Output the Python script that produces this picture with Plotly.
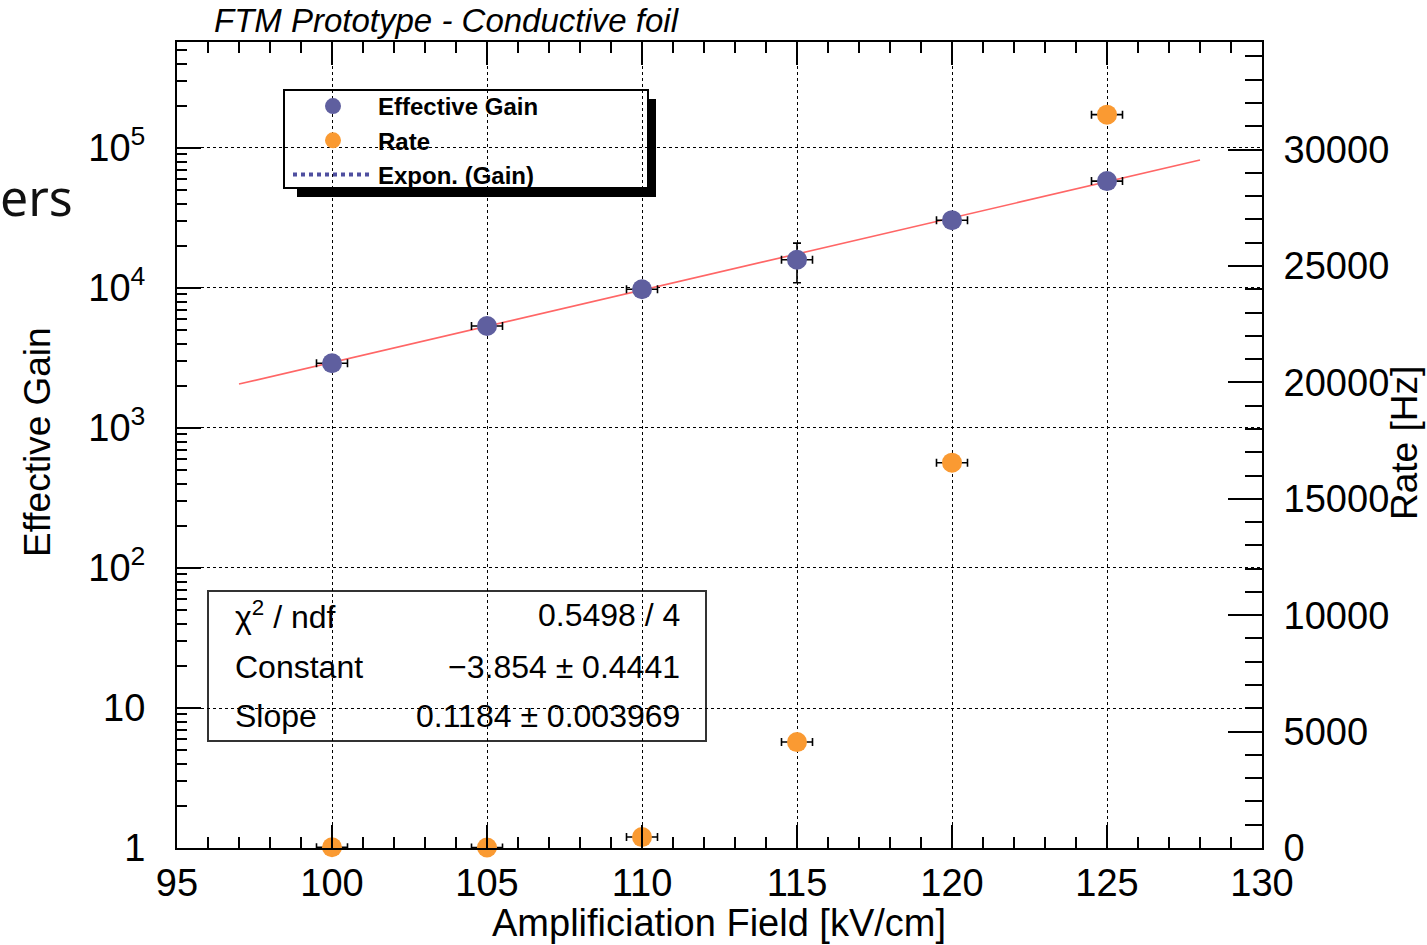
import plotly.graph_objects as go

# ---------------- data ----------------
field = [100, 105, 110, 115, 120, 125]
field_err = [0.5, 0.5, 0.5, 0.5, 0.5, 0.5]
gain = [2900, 5350, 9800, 15900, 30500, 58000]
gain_err = [150, 250, 500, 5000, 1500, 2500]
rate = [30, 20, 470, 4550, 16550, 31500]
fit_x = [97.0, 128.0]
fit_y = [2060, 82000]

x_ticks = [95, 100, 105, 110, 115, 120, 125, 130]
y_tickvals = [1, 10, 100, 1000, 10000, 100000]
y_ticktext = ["1", "10", "10<sup>2</sup>", "10<sup>3</sup>", "10<sup>4</sup>", "10<sup>5</sup>"]
rate_ticks = [0, 5000, 10000, 15000, 20000, 25000, 30000]
rate_ticktext = ["0", "5000", "10000", "15000", "20000", "25000", "30000"]

stats_labels = ["\u03c7<sup>2</sup> / ndf", "Constant", "Slope"]
stats_values = ["0.5498 / 4", "\u22123.854 \u00b1 0.4441", "0.1184 \u00b1 0.003969"]

# ---------------- geometry ----------------
W, H = 1427, 945
L, R, T, B = 177, 1262, 42, 848
FONT = "Liberation Sans"


def px(x):
    return (x - L) / (R - L)


def py(y):
    return (B - y) / (B - T)


fig = go.Figure()

# fit line (drawn, not in legend)
fig.add_trace(go.Scatter(
    x=fit_x, y=fit_y, mode="lines", yaxis="y",
    line=dict(color="#ff6666", width=1.6), showlegend=False, hoverinfo="skip"))

# Effective gain
fig.add_trace(go.Scatter(
    x=field, y=gain, mode="markers", name="Effective Gain", yaxis="y",
    marker=dict(size=20, color="#5f5f9f"),
    error_x=dict(type="data", array=field_err, color="black", thickness=1.6, width=4),
    error_y=dict(type="data", array=gain_err, color="black", thickness=1.6, width=4)))

# Rate
fig.add_trace(go.Scatter(
    x=field, y=rate, mode="markers", name="Rate", yaxis="y2", cliponaxis=False,
    marker=dict(size=20, color="#fa9a32"),
    error_x=dict(type="data", array=field_err, color="black", thickness=1.6, width=4)))

# legend-only entry for the exponential fit
fig.add_trace(go.Scatter(
    x=[None], y=[None], mode="lines", name="Expon. (Gain)", yaxis="y",
    line=dict(color="#4f4fa0", width=4, dash="dot")))

shapes = [
    # legend shadow + box
    dict(type="rect", xref="paper", yref="paper", layer="below",
         x0=px(297), x1=px(656), y0=py(197), y1=py(99),
         fillcolor="black", line=dict(width=0)),
    dict(type="rect", xref="paper", yref="paper", layer="below",
         x0=px(284), x1=px(648), y0=py(188), y1=py(90),
         fillcolor="white", line=dict(color="black", width=2)),
    # stats box
    dict(type="rect", xref="paper", yref="paper", layer="below",
         x0=px(208), x1=px(706), y0=py(741), y1=py(591),
         fillcolor="white", line=dict(color="#333333", width=2)),
]

annotations = [
    dict(text="FTM Prototype - Conductive foil", xref="paper", yref="paper",
         x=px(212), y=py(20), xanchor="left", yanchor="middle", showarrow=False,
         font=dict(family=FONT, size=33, color="black", style="italic")),
    dict(text="Amplificiation Field [kV/cm]", xref="paper", yref="paper",
         x=px(719), y=py(923), xanchor="center", yanchor="middle", showarrow=False,
         font=dict(family=FONT, size=38, color="black")),
    dict(text="Effective Gain", xref="paper", yref="paper", textangle=-90,
         x=px(37), y=py(442), xanchor="center", yanchor="middle", showarrow=False,
         font=dict(family=FONT, size=37, color="black")),
    dict(text="Rate [Hz]", xref="paper", yref="paper", textangle=-90,
         x=px(1404), y=py(443), xanchor="center", yanchor="middle", showarrow=False,
         font=dict(family=FONT, size=37, color="black")),
    dict(text="ers", xref="paper", yref="paper",
         x=px(75), y=py(197), xanchor="right", yanchor="middle", showarrow=False,
         font=dict(family="Noto Sans", size=50, color="#111111")),
]

row_y = [615, 667, 716]
for lab, val, yy in zip(stats_labels, stats_values, row_y):
    annotations.append(dict(text=lab, xref="paper", yref="paper", x=px(233), y=py(yy),
                            xanchor="left", yanchor="middle", showarrow=False,
                            font=dict(family=FONT, size=32, color="black")))
    annotations.append(dict(text=val, xref="paper", yref="paper", x=px(682), y=py(yy),
                            xanchor="right", yanchor="middle", showarrow=False,
                            font=dict(family=FONT, size=32, color="black")))

fig.update_layout(
    width=W, height=H,
    margin=dict(l=L, r=W - R, t=T, b=H - B, autoexpand=False),
    paper_bgcolor="white", plot_bgcolor="rgba(0,0,0,0)",
    font=dict(family=FONT, color="black"),
    shapes=shapes, annotations=annotations,
    showlegend=True,
    legend=dict(x=px(288), y=py(84), xanchor="left", yanchor="top",
                bgcolor="rgba(0,0,0,0)", borderwidth=0, itemwidth=80,
                tracegroupgap=0,
                font=dict(family=FONT, size=24, color="black", weight="bold")),
    xaxis=dict(range=[95, 130], tickmode="array", tickvals=x_ticks,
               ticks="inside", ticklen=23, tickwidth=2, tickcolor="black",
               minor=dict(dtick=1, ticks="inside", ticklen=11, tickwidth=1.5,
                          tickcolor="black", showgrid=False),
               showline=True, linewidth=2, linecolor="black", mirror="ticks",
               showgrid=True, gridcolor="black", gridwidth=1, griddash="dot",
               zeroline=False, tickfont=dict(family=FONT, size=38),
               ticklabelstandoff=0),
    yaxis=dict(type="log", range=[0, 5.757], tickmode="array",
               tickvals=y_tickvals, ticktext=y_ticktext,
               ticks="inside", ticklen=24, tickwidth=2, tickcolor="black",
               minor=dict(dtick="D1", ticks="inside", ticklen=10, tickwidth=1.5,
                          tickcolor="black", showgrid=False),
               showline=True, linewidth=2, linecolor="black",
               showgrid=True, gridcolor="black", gridwidth=1, griddash="dot",
               zeroline=False, tickfont=dict(family=FONT, size=38),
               ticklabelstandoff=22),
    yaxis2=dict(overlaying="y", side="right", range=[0, 34620],
                tickmode="array", tickvals=rate_ticks, ticktext=rate_ticktext,
                ticks="inside", ticklen=34, tickwidth=2, tickcolor="black",
                minor=dict(dtick=1000, ticks="inside", ticklen=17, tickwidth=1.5,
                           tickcolor="black", showgrid=False),
                showline=True, linewidth=2, linecolor="black",
                showgrid=False, zeroline=False,
                tickfont=dict(family=FONT, size=38), ticklabelstandoff=12),
)

fig.write_html("out.html")
